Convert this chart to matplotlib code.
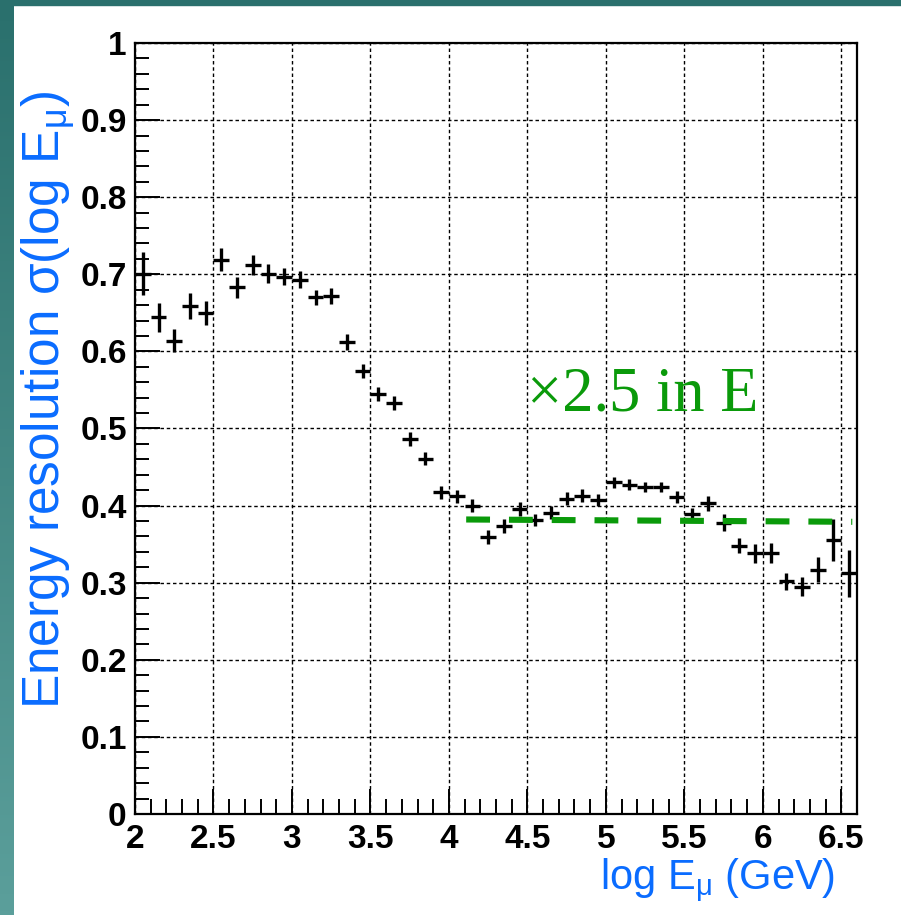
import numpy as np
import matplotlib
matplotlib.use("Agg")
import matplotlib.pyplot as plt
from matplotlib.ticker import MultipleLocator, FuncFormatter

plt.rcParams['mathtext.fontset'] = 'custom'
plt.rcParams['mathtext.rm'] = 'Liberation Sans'
plt.rcParams['mathtext.it'] = 'Liberation Sans'

# bin centres of log E_mu (GeV), bin width 0.1
log_e = [2.05, 2.15, 2.25, 2.35, 2.45, 2.55, 2.65, 2.75, 2.85, 2.95,
         3.05, 3.15, 3.25, 3.35, 3.45, 3.55, 3.65, 3.75, 3.85, 3.95,
         4.05, 4.15, 4.25, 4.35, 4.45, 4.55, 4.65, 4.75, 4.85, 4.95,
         5.05, 5.15, 5.25, 5.35, 5.45, 5.55, 5.65, 5.75, 5.85, 5.95,
         6.05, 6.15, 6.25, 6.35, 6.45, 6.55]
bin_halfwidth = 0.05
resolution = [0.701, 0.644, 0.614, 0.659, 0.650, 0.719, 0.683, 0.712, 0.701, 0.697,
              0.693, 0.670, 0.672, 0.612, 0.575, 0.545, 0.533, 0.486, 0.461, 0.417,
              0.412, 0.400, 0.359, 0.374, 0.396, 0.381, 0.391, 0.409, 0.413, 0.407,
              0.430, 0.427, 0.424, 0.424, 0.411, 0.389, 0.403, 0.378, 0.348, 0.338,
              0.339, 0.302, 0.295, 0.317, 0.355, 0.312]
res_err = [0.028, 0.019, 0.015, 0.017, 0.016, 0.015, 0.014, 0.013, 0.012, 0.011,
           0.011, 0.010, 0.010, 0.010, 0.009, 0.009, 0.009, 0.009, 0.008, 0.008,
           0.008, 0.008, 0.009, 0.009, 0.009, 0.008, 0.008, 0.008, 0.008, 0.008,
           0.007, 0.007, 0.007, 0.007, 0.008, 0.008, 0.010, 0.011, 0.010, 0.012,
           0.013, 0.011, 0.012, 0.016, 0.027, 0.030]

# "x2.5 in E" reference level
ref_x = [4.11, 6.57]
ref_y = [0.382, 0.379]

fig = plt.figure(figsize=(9.01, 9.15), dpi=100)
fig.patch.set_facecolor('white')

# slide border: teal band on top and gradient strip on the left
bg = fig.add_axes([0, 0, 14 / 901, 1], zorder=-5)
grad = np.linspace(0, 1, 256).reshape(-1, 1)
cmap = matplotlib.colors.LinearSegmentedColormap.from_list('teal', ['#2a706d', '#5b9f9b'])
bg.imshow(grad, aspect='auto', cmap=cmap, extent=[0, 1, 0, 1], origin='upper')
bg.axis('off')
fig.patches.append(matplotlib.patches.Rectangle((0, 1 - 5 / 915), 1, 5 / 915,
                   transform=fig.transFigure, color='#2a706d', zorder=-6))

ax = fig.add_axes([135 / 901, 101 / 915, 722 / 901, 771 / 915])
ax.set_xlim(2, 6.6)
ax.set_ylim(0, 1)

ax.errorbar(log_e, resolution, xerr=bin_halfwidth, yerr=res_err, fmt='none',
            ecolor='black', elinewidth=2.4, capsize=0, zorder=3)
ax.plot(ref_x, ref_y, color='#0a9a0a', lw=4.4, dashes=(3.9, 3.1),
        dash_capstyle='butt', zorder=4)
ax.text(4.50, 0.523, u'\u00d72.5 in E', color='#0a9a0a', fontsize=45,
        family='Liberation Serif', va='baseline', ha='left', zorder=5)

ax.xaxis.set_major_locator(MultipleLocator(0.5))
ax.xaxis.set_minor_locator(MultipleLocator(0.1))
ax.yaxis.set_major_locator(MultipleLocator(0.1))
ax.yaxis.set_minor_locator(MultipleLocator(0.02))
fmt = FuncFormatter(lambda v, p: f'{v:g}')
ax.xaxis.set_major_formatter(fmt)
ax.yaxis.set_major_formatter(fmt)
ax.grid(True, which='major', color='black', lw=1.0, linestyle=(0, (2.5, 2)))
ax.tick_params(axis='x', which='major', direction='in', length=18, width=1.4,
               labelsize=24, pad=7, top=False)
ax.tick_params(axis='x', which='minor', direction='in', length=11, width=1.4, top=False)
ax.tick_params(axis='y', which='major', direction='in', length=18, width=1.4,
               labelsize=24, pad=6, right=False)
ax.tick_params(axis='y', which='minor', direction='in', length=10, width=1.4, right=False)
for lab in ax.get_xticklabels() + ax.get_yticklabels():
    lab.set_family('Liberation Sans')
    lab.set_fontweight('bold')
for s in ax.spines.values():
    s.set_linewidth(1.6)

blue = '#0a6cff'
ax.set_xlabel(r'log E$_{\mu}$ (GeV)', color=blue, fontsize=30, family='Liberation Sans')
ax.xaxis.set_label_coords(0.97, -0.056)
ax.xaxis.label.set_ha('right')
ax.set_ylabel(r'Energy resolution $\sigma$(log E$_{\mu}$)', color=blue, fontsize=37,
              family='Liberation Sans')
ax.yaxis.set_label_coords(-0.081, 0.537)

fig.savefig('out.png', dpi=100)
